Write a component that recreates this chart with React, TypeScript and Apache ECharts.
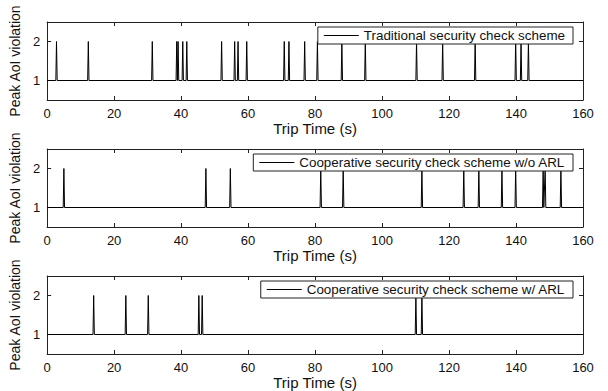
import React, { useEffect, useRef } from "react";
import * as echarts from "echarts";

const xTicks = [0, 20, 40, 60, 80, 100, 120, 140, 160];
const yTicks = [1, 2];
const baseValue = 1;
const peakValue = 2;

const seriesNames = [
  "Traditional security check scheme",
  "Cooperative security check scheme w/o ARL",
  "Cooperative security check scheme w/ ARL",
];

// times (s) at which the peak AoI violation reaches 2
const traditionalSpikes = [2.8, 12.3, 31.4, 38.7, 39.1, 40.5, 41.7, 52.1, 56.0, 57.0, 59.6, 70.8, 72.2, 76.9, 80.7, 88.0, 95.0, 110.3, 118.1, 127.8, 139.9, 141.5, 143.7];
const coopNoArlSpikes = [5.0, 47.4, 54.7, 81.7, 88.4, 111.9, 124.4, 128.9, 135.8, 139.9, 148.1, 148.7, 153.4];
const coopArlSpikes = [13.9, 23.5, 30.2, 45.3, 46.3, 110.1, 111.9];

const spikeHalfWidth = 0.2;

function buildTrace(spikes: number[]): number[][] {
  const pts: number[][] = [[xTicks[0], baseValue]];
  spikes.forEach((t) => {
    pts.push([t - spikeHalfWidth, baseValue]);
    pts.push([t, peakValue]);
    pts.push([t + spikeHalfWidth, baseValue]);
  });
  pts.push([xTicks[xTicks.length - 1], baseValue]);
  return pts;
}

const FONT = "'Liberation Sans', Arial, Helvetica, sans-serif";
const AX = "#222";

export default function App() {
  const ref = useRef<HTMLDivElement>(null);
  useEffect(() => {
    if (!ref.current) return;
    const chart = echarts.init(ref.current, undefined, { renderer: "svg" });
    const tops = [22, 149, 276];
    const legendTops = [27, 154, 281];
    const allSpikes = [traditionalSpikes, coopNoArlSpikes, coopArlSpikes];
    const grids = tops.map((t) => ({ left: 47, width: 536, top: t, height: 78, show: false }));
    const xAxes: any[] = [];
    const yAxes: any[] = [];
    tops.forEach((_, i) => {
      xAxes.push({
        type: "value",
        gridIndex: i,
        min: xTicks[0],
        max: xTicks[xTicks.length - 1],
        interval: 20,
        position: "bottom",
        name: "Trip Time (s)",
        nameLocation: "middle",
        nameGap: 21,
        nameTextStyle: { fontFamily: FONT, fontSize: 15, fontWeight: "normal", color: "#111" },
        axisLine: { show: true, onZero: false, lineStyle: { color: AX, width: 1 } },
        axisTick: { show: true, inside: true, length: 4, lineStyle: { color: AX } },
        axisLabel: { show: true, margin: 7, fontFamily: FONT, fontSize: 13, color: "#111" },
        splitLine: { show: false },
      });
      xAxes.push({
        type: "value",
        gridIndex: i,
        min: xTicks[0],
        max: xTicks[xTicks.length - 1],
        interval: 20,
        position: "top",
        axisLine: { show: true, onZero: false, lineStyle: { color: AX, width: 1 } },
        axisTick: { show: true, inside: true, length: 4, lineStyle: { color: AX } },
        axisLabel: { show: false },
        splitLine: { show: false },
      });
      yAxes.push({
        type: "value",
        gridIndex: i,
        min: 0.5,
        max: 2.5,
        position: "left",
        name: "Peak AoI violation",
        nameLocation: "middle",
        nameGap: 22,
        nameTextStyle: { fontFamily: FONT, fontSize: 14, fontWeight: "normal", color: "#111" },
        axisLine: { show: true, onZero: false, lineStyle: { color: AX, width: 1 } },
        axisTick: { show: true, inside: true, length: 4, customValues: yTicks, lineStyle: { color: AX } },
        axisLabel: { show: true, margin: 7, customValues: yTicks, fontFamily: FONT, fontSize: 13, color: "#111" },
        splitLine: { show: false },
      });
      yAxes.push({
        type: "value",
        gridIndex: i,
        min: 0.5,
        max: 2.5,
        position: "right",
        axisLine: { show: true, onZero: false, lineStyle: { color: AX, width: 1 } },
        axisTick: { show: true, inside: true, length: 4, customValues: yTicks, lineStyle: { color: AX } },
        axisLabel: { show: false },
        splitLine: { show: false },
      });
    });
    const series = allSpikes.map((sp, i) => ({
      type: "line",
      name: seriesNames[i],
      xAxisIndex: i * 2,
      yAxisIndex: i * 2,
      data: buildTrace(sp),
      symbol: "none",
      lineStyle: { color: "#000", width: 1 },
      itemStyle: { color: "#000" },
      z: 2,
    }));
    const legends = seriesNames.map((n, i) => ({
      data: [n],
      right: 35,
      top: legendTops[i],
      orient: "horizontal",
      backgroundColor: "#fff",
      borderColor: "#222",
      borderWidth: 1,
      borderRadius: 0,
      padding: [2, 8, 2, 6],
      icon: "rect",
      itemWidth: 35,
      itemHeight: 1,
      itemGap: 5,
      itemStyle: { color: "#000", borderWidth: 0 },
      textStyle: { fontFamily: FONT, fontSize: 13.4, color: "#111", lineHeight: 13 },
      selectedMode: false,
    }));
    chart.setOption({
      animation: false,
      backgroundColor: "#fff",
      grid: grids,
      xAxis: xAxes,
      yAxis: yAxes,
      legend: legends,
      series,
    });
    return () => chart.dispose();
  }, []);
  return (
    <div
      ref={ref}
      style={{ position: "fixed", left: 0, top: 0, width: 608, height: 391, background: "#fff" }}
    />
  );
}
